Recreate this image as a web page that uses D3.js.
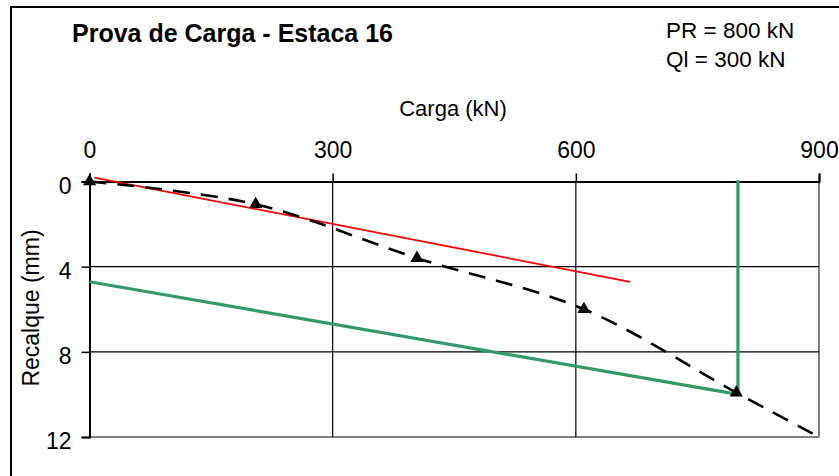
<!DOCTYPE html>
<html><head><meta charset="utf-8">
<script src="https://cdn.jsdelivr.net/npm/d3@7"></script>
<style>
body{margin:0;background:#fff;}
text{font-family:"Liberation Sans",Arial,sans-serif;fill:#000;}
</style></head>
<body><svg id="c" width="839" height="476"></svg>
<script>
// data
const xTicks = [0, 300, 600, 900];
const yTicks = [0, 4, 8, 12];
const measuredLoad = [0, 205, 404, 610, 798];
const measuredSettle = [0, 1.07, 3.6, 6.0, 9.92];
const curveLoad = [0, 205, 404, 610, 798, 900];
const curveSettle = [0, 1.07, 3.6, 6.0, 9.92, 12];
const elasticLoad = [6, 667];
const elasticSettle = [-0.18, 4.71];
const criterionLoad = [0, 800];
const criterionSettle = [4.71, 10.0];
const prLoad = [800, 800];
const prSettle = [0, 10.0];
const titleText = "Prova de Carga - Estaca 16";
const infoLines = ["PR = 800 kN", "Ql = 300 kN"];

const svg = d3.select("#c");
const x = d3.scaleLinear().domain([0, 900]).range([89.5, 819]);
const y = d3.scaleLinear().domain([0, 12]).range([181.5, 437]);

// outer border
svg.append("rect").attr("x", 11).attr("y", 7).attr("width", 850).attr("height", 490)
  .attr("fill", "#fff").attr("stroke", "#000").attr("stroke-width", 2);

// plot border right/bottom gray
svg.append("line").attr("x1", x(900)).attr("x2", x(900)).attr("y1", y(0)).attr("y2", y(12))
  .attr("stroke", "#808080").attr("stroke-width", 2);
svg.append("line").attr("x1", x(0)).attr("x2", x(900)).attr("y1", y(12)).attr("y2", y(12))
  .attr("stroke", "#808080").attr("stroke-width", 2);

// grid
const g = svg.append("g");
g.selectAll(".vg").data(xTicks.filter(d => d > 0 && d < 900)).enter().append("line")
  .attr("x1", d => x(d)).attr("x2", d => x(d)).attr("y1", y(0)).attr("y2", y(12))
  .attr("stroke", "#000").attr("stroke-width", 1.2);
g.selectAll(".hg").data(yTicks.filter(d => d > 0 && d < 12)).enter().append("line")
  .attr("x1", x(0)).attr("x2", x(900)).attr("y1", d => y(d)).attr("y2", d => y(d))
  .attr("stroke", "#000").attr("stroke-width", 1.2);

// axes
const xa = svg.append("g").attr("transform", `translate(0,${y(0)})`)
  .call(d3.axisTop(x).tickValues(xTicks).tickSize(8).tickPadding(16).tickFormat(d3.format("d")));
const ya = svg.append("g").attr("transform", `translate(${x(0)},0)`)
  .call(d3.axisLeft(y).tickValues(yTicks).tickSize(8).tickPadding(10).tickFormat(d3.format("d")));
[xa, ya].forEach(a => {
  a.select(".domain").attr("stroke", "#000").attr("stroke-width", 2);
  a.selectAll(".tick line").attr("stroke", "#000").attr("stroke-width", 1.5);
  a.selectAll(".tick text").attr("font-size", 23).attr("font-family", '"Liberation Sans",Arial,sans-serif').attr("fill", "#000");
});
ya.selectAll(".tick text").attr("dy", "0.5em");

// lines
const line = d3.line().x(d => x(d[0])).y(d => y(d[1]));
const zip = (a, b) => a.map((v, i) => [v, b[i]]);

svg.append("path").datum(zip(elasticLoad, elasticSettle)).attr("d", line)
  .attr("fill", "none").attr("stroke", "#ff0000").attr("stroke-width", 1.8);

svg.append("path").datum(zip(criterionLoad, criterionSettle)).attr("d", line)
  .attr("fill", "none").attr("stroke", "#339966").attr("stroke-width", 3.2);
svg.append("path").datum(zip(prLoad, prSettle)).attr("d", line)
  .attr("fill", "none").attr("stroke", "#339966").attr("stroke-width", 3.2).attr("stroke-linecap", "round");

svg.append("path").datum(zip(curveLoad, curveSettle))
  .attr("d", d3.line().x(d => x(d[0])).y(d => y(d[1])).curve(d3.curveCatmullRom.alpha(0.5)))
  .attr("fill", "none").attr("stroke", "#000").attr("stroke-width", 2.6).attr("stroke-dasharray", "17,11");

svg.selectAll(".pt").data(zip(measuredLoad, measuredSettle)).enter().append("path")
  .attr("d", d3.symbol(d3.symbolTriangle, 75))
  .attr("transform", d => `translate(${x(d[0])},${y(d[1])})`)
  .attr("fill", "#000");

// texts
svg.append("text").attr("x", 72).attr("y", 41.5).attr("font-size", 25).attr("font-weight", "bold").text(titleText);
svg.selectAll(".info").data(infoLines).enter().append("text")
  .attr("x", 666).attr("y", (d, i) => 37.5 + i * 29).attr("font-size", 22.5).text(d => d);
svg.append("text").attr("x", 453).attr("y", 116).attr("text-anchor", "middle").attr("font-size", 22).text("Carga (kN)");
svg.append("text").attr("transform", "translate(39,308) rotate(-90)").attr("text-anchor", "middle")
  .attr("font-size", 23).text("Recalque (mm)");
</script></body></html>
